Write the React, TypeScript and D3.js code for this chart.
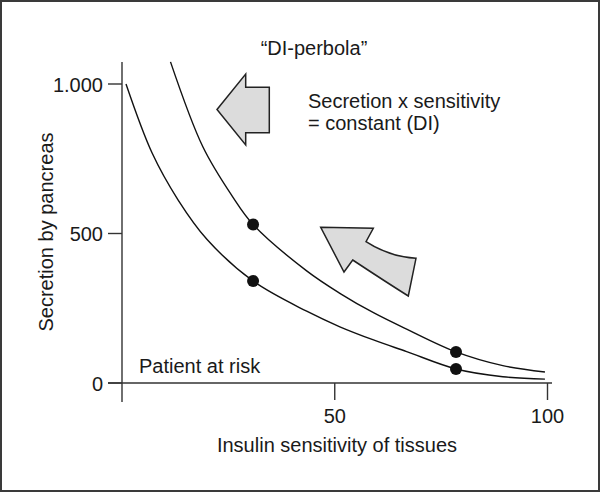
import React from "react";
import * as d3 from "d3";

// Curves: insulin sensitivity (x) vs secretion (y)
const upperX = [11.4, 19.0, 25.9, 30.8, 43.4, 51.2, 59.1, 66.9, 78.5, 89.5, 99.4];
const upperY = [1074, 790, 625, 530, 375, 300, 235, 180, 104, 58, 37];
const lowerX = [0.94, 7.05, 13.2, 20.0, 30.8, 43.4, 51.2, 59.1, 66.9, 78.5, 89.5, 99.4];
const lowerY = [1000, 770, 612, 480, 341, 240, 188, 144, 105, 47, 21, 13];
const dotX = [30.8, 30.8, 78.5, 78.5];
const dotY = [530, 341, 104, 47];

const xTicks = [50, 100];
const yTicks = [0, 500, 1000];
const yTickLabels = ["0", "500", "1.000"];

const FONT = "'Liberation Sans', Arial, Helvetica, sans-serif";

export default function App() {
  const W = 600;
  const H = 492;
  const x = d3.scaleLinear().domain([0, 100]).range([122, 547.5]);
  const y = d3.scaleLinear().domain([0, 1000]).range([383, 84]);

  const line = d3
    .line<[number, number]>()
    .x((d) => x(d[0]))
    .y((d) => y(d[1]))
    .curve(d3.curveCatmullRom.alpha(0.5));

  const upper = upperX.map((v, i) => [v, upperY[i]] as [number, number]);
  const lower = lowerX.map((v, i) => [v, lowerY[i]] as [number, number]);

  const axisColor = "#333";
  const textColor = "#1a1a1a";

  // annotation arrows (pixel shapes)
  const leftArrow =
    "M217,109.5 L245.7,74 L245.7,87.3 L269.3,87.3 L269.3,132.7 L245.7,132.7 L245.7,145 Z";
  const curvedArrow =
    "M320.7,227.3 L373.3,228.3 L366,241.7 Q389,256.6 416,258.3 L408.3,296 Q386,282 352.7,260 L344,272 Z";

  return (
    <svg
      width={W}
      height={H}
      style={{ position: "absolute", left: 0, top: 0, background: "#fff" }}
      fontFamily={FONT}
    >
      <rect x={0} y={0} width={W} height={H} fill="#fff" />
      <rect x={1} y={1} width={W - 2} height={H - 2} fill="none" stroke="#3a3a3a" strokeWidth={2} />

      {/* axes */}
      <line x1={x(0)} x2={x(0)} y1={62} y2={402} stroke={axisColor} strokeWidth={1.4} />
      <line x1={108} x2={552} y1={y(0)} y2={y(0)} stroke={axisColor} strokeWidth={1.4} />
      {yTicks.map((t, i) => (
        <g key={"yt" + t}>
          <line x1={108} x2={x(0)} y1={y(t)} y2={y(t)} stroke={axisColor} strokeWidth={1.4} />
          <text
            x={103}
            y={y(t) + 7.5}
            textAnchor="end"
            fontSize={20}
            fill={textColor}
          >
            {yTickLabels[i]}
          </text>
        </g>
      ))}
      {xTicks.map((t) => (
        <g key={"xt" + t}>
          <line x1={x(t)} x2={x(t)} y1={y(0)} y2={400} stroke={axisColor} strokeWidth={1.4} />
          <text x={x(t)} y={423} textAnchor="middle" fontSize={20} fill={textColor}>
            {t}
          </text>
        </g>
      ))}

      {/* curves */}
      <path d={line(upper) || ""} fill="none" stroke="#111" strokeWidth={1.4} />
      <path d={line(lower) || ""} fill="none" stroke="#111" strokeWidth={1.4} />
      {dotX.map((v, i) => (
        <circle key={"d" + i} cx={x(v)} cy={y(dotY[i])} r={6} fill="#111" />
      ))}

      {/* arrows */}
      <path d={leftArrow} fill="#dcdcdc" stroke="#222" strokeWidth={1.5} strokeLinejoin="miter" />
      <path d={curvedArrow} fill="#dcdcdc" stroke="#222" strokeWidth={1.5} strokeLinejoin="miter" />

      {/* texts */}
      <text x={314} y={55} textAnchor="middle" fontSize={20} fill={textColor}>
        “DI-perbola”
      </text>
      <text x={308} y={108} fontSize={20} fill={textColor}>
        Secretion x sensitivity
      </text>
      <text x={308} y={130} fontSize={20} fill={textColor}>
        = constant (DI)
      </text>
      <text x={139} y={372.5} fontSize={20} fill={textColor}>
        Patient at risk
      </text>
      <text x={337} y={452} textAnchor="middle" fontSize={20} fill={textColor}>
        Insulin sensitivity of tissues
      </text>
      <text
        transform={`translate(53,232) rotate(-90)`}
        textAnchor="middle"
        fontSize={20}
        fill={textColor}
      >
        Secretion by pancreas
      </text>
    </svg>
  );
}
